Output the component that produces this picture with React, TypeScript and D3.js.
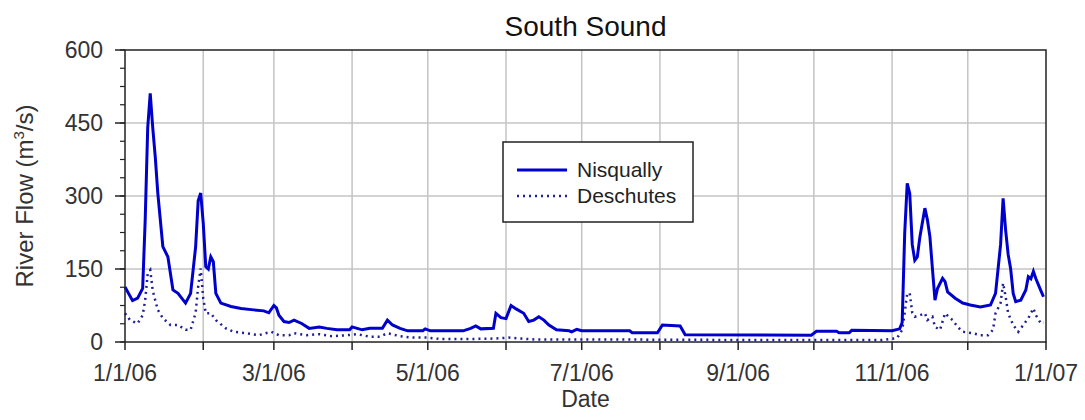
import React from "react";
import * as d3 from "d3";

const TITLE = "South Sound";
const X_TICK_LABELS = ["1/1/06", "3/1/06", "5/1/06", "7/1/06", "9/1/06", "11/1/06", "1/1/07"];
const Y_TICKS = [0, 150, 300, 450, 600];

const NISQUALLY_DATES = [
  "2006-01-01","2006-01-04","2006-01-06","2006-01-08","2006-01-09","2006-01-10","2006-01-11","2006-01-12","2006-01-13","2006-01-14",
  "2006-01-16","2006-01-18","2006-01-20","2006-01-22","2006-01-25","2006-01-27","2006-01-29","2006-01-30","2006-01-31","2006-02-01",
  "2006-02-02","2006-02-03","2006-02-04","2006-02-05","2006-02-06","2006-02-08","2006-02-12","2006-02-16","2006-02-21","2006-02-25",
  "2006-02-27","2006-03-01","2006-03-02","2006-03-03","2006-03-05","2006-03-07","2006-03-09","2006-03-12","2006-03-15","2006-03-19",
  "2006-03-22","2006-03-26","2006-03-31","2006-04-01","2006-04-03","2006-04-05","2006-04-08","2006-04-13","2006-04-15","2006-04-17",
  "2006-04-20","2006-04-23","2006-04-29","2006-04-30","2006-05-02","2006-05-15","2006-05-18","2006-05-20","2006-05-22","2006-05-27",
  "2006-05-28","2006-05-30","2006-06-01","2006-06-03","2006-06-05","2006-06-08","2006-06-10","2006-06-12","2006-06-14","2006-06-16",
  "2006-06-18","2006-06-21","2006-06-26","2006-06-27","2006-06-29","2006-07-01","2006-07-20","2006-07-21","2006-07-31","2006-08-02",
  "2006-08-09","2006-08-11","2006-09-30","2006-10-02","2006-10-10","2006-10-11","2006-10-15","2006-10-16","2006-11-01","2006-11-04",
  "2006-11-05","2006-11-06","2006-11-07","2006-11-08","2006-11-09","2006-11-10","2006-11-11","2006-11-12","2006-11-14","2006-11-15",
  "2006-11-16","2006-11-17","2006-11-18","2006-11-19","2006-11-21","2006-11-22","2006-11-23","2006-11-26","2006-11-29","2006-12-02",
  "2006-12-06","2006-12-10","2006-12-12","2006-12-14","2006-12-15","2006-12-16","2006-12-17","2006-12-18","2006-12-19","2006-12-20",
  "2006-12-22","2006-12-24","2006-12-25","2006-12-26","2006-12-27","2006-12-28","2006-12-30","2006-12-31"
];
const NISQUALLY_VALUES = [
  113,85,90,110,250,440,511,440,380,306,
  196,175,107,100,80,100,196,290,306,245,
  155,150,175,165,100,80,73,69,66,64,
  60,75,70,55,42,40,45,38,28,31,
  28,25,25,31,28,25,28,28,45,35,
  28,23,23,27,23,23,28,33,27,28,
  59,50,48,75,68,59,42,45,52,45,
  35,25,23,21,26,23,23,19,19,35,
  33,15,14,22,22,19,19,24,23,27,
  40,223,326,305,200,168,175,215,275,251,
  216,150,86,110,131,124,103,90,80,76,
  72,76,100,200,295,230,180,150,100,83,
  86,107,134,130,145,130,105,93
];

const DESCHUTES_DATES = [
  "2006-01-01","2006-01-03","2006-01-06","2006-01-08","2006-01-09","2006-01-10","2006-01-11","2006-01-12","2006-01-14","2006-01-16",
  "2006-01-19","2006-01-22","2006-01-25","2006-01-27","2006-01-29","2006-01-30","2006-01-31","2006-02-01","2006-02-02","2006-02-04",
  "2006-02-06","2006-02-10","2006-02-13","2006-02-18","2006-02-23","2006-02-28","2006-03-03","2006-03-07","2006-03-09","2006-03-14",
  "2006-03-19","2006-03-24","2006-03-30","2006-04-03","2006-04-08","2006-04-12","2006-04-15","2006-04-20","2006-04-25","2006-05-01",
  "2006-05-06","2006-05-16","2006-05-27","2006-06-02","2006-06-07","2006-06-13","2006-06-30","2006-07-20","2006-09-08","2006-10-28",
  "2006-11-03","2006-11-05","2006-11-06","2006-11-07","2006-11-08","2006-11-09","2006-11-10","2006-11-12","2006-11-14","2006-11-15",
  "2006-11-17","2006-11-18","2006-11-20","2006-11-22","2006-11-24","2006-11-25","2006-11-27","2006-11-29","2006-12-03","2006-12-06",
  "2006-12-09","2006-12-11","2006-12-12","2006-12-14","2006-12-15","2006-12-16","2006-12-17","2006-12-19","2006-12-21","2006-12-23",
  "2006-12-25","2006-12-27","2006-12-28","2006-12-30","2006-12-31"
];
const DESCHUTES_VALUES = [
  59,45,38,55,86,141,148,105,66,49,
  35,35,25,25,60,114,151,90,59,59,
  45,28,21,18,14,21,14,14,18,14,
  16,12,14,16,11,11,18,12,9,9,
  6,6,7,9,7,5,5,5,4,4,
  8,25,60,100,100,60,52,55,59,45,
  52,31,25,59,49,45,31,21,18,14,
  14,25,59,80,121,93,59,35,21,35,
  49,69,55,38,40
];

const SERIES_NAMES = ["Nisqually", "Deschutes"];

const W = 1085, H = 420;
const M = { left: 125, right: 1046, top: 50, bottom: 342 };
const FONT = "'Liberation Sans', Arial, sans-serif";

export default function App() {
  const parse = d3.timeParse("%Y-%m-%d");
  const x = d3.scaleTime().domain([new Date(2006, 0, 1), new Date(2007, 0, 1)]).range([M.left, M.right]);
  const y = d3.scaleLinear().domain([0, 600]).range([M.bottom, M.top]);

  const nis = NISQUALLY_DATES.map((d, i) => ({ d: parse(d) as Date, v: NISQUALLY_VALUES[i] }));
  const des = DESCHUTES_DATES.map((d, i) => ({ d: parse(d) as Date, v: DESCHUTES_VALUES[i] }));
  const line = d3.line<{ d: Date; v: number }>().x((p) => x(p.d)).y((p) => y(p.v));

  const months = d3.timeMonth.range(new Date(2006, 0, 1), new Date(2007, 0, 2));
  const labelMonths = months.filter((m, i) => i % 2 === 0);
  const minorY = d3.range(0, 600.01, 37.5);

  return (
    <svg width={W} height={H} style={{ position: "absolute", left: 0, top: 0, background: "#fff" }}>
      {/* gridlines */}
      {months.slice(1, -1).map((m, i) => (
        <line key={"vg" + i} x1={x(m)} x2={x(m)} y1={M.top} y2={M.bottom} stroke="#c4c4c4" strokeWidth={1.5} />
      ))}
      {Y_TICKS.slice(1, -1).map((t) => (
        <line key={"hg" + t} x1={M.left} x2={M.right} y1={y(t)} y2={y(t)} stroke="#c4c4c4" strokeWidth={1.5} />
      ))}

      {/* data */}
      <path d={line(des) || ""} fill="none" stroke="#1f1f99" strokeWidth={2.5} strokeDasharray="2 4" />
      <path d={line(nis) || ""} fill="none" stroke="#0000cc" strokeWidth={3} strokeLinejoin="miter" />

      {/* frame */}
      <rect x={M.left} y={M.top} width={M.right - M.left} height={M.bottom - M.top} fill="none" stroke="#222" strokeWidth={1.5} />

      {/* y ticks */}
      {minorY.map((t) => (
        <line key={"my" + t} x1={M.left - 5} x2={M.left} y1={y(t)} y2={y(t)} stroke="#222" strokeWidth={1.2} />
      ))}
      {Y_TICKS.map((t) => (
        <g key={"yt" + t}>
          <line x1={M.left - 10} x2={M.left} y1={y(t)} y2={y(t)} stroke="#222" strokeWidth={1.5} />
          <text x={103} y={y(t) + 8} textAnchor="end" fontFamily={FONT} fontSize={23} fill="#333">{t}</text>
        </g>
      ))}

      {/* x ticks */}
      {months.map((m, i) => (
        <line key={"xt" + i} x1={x(m)} x2={x(m)} y1={M.bottom} y2={M.bottom + 8} stroke="#222" strokeWidth={1.5} />
      ))}
      {labelMonths.map((m, i) => (
        <text key={"xl" + i} x={x(m)} y={381} textAnchor="middle" fontFamily={FONT} fontSize={23} fill="#333">
          {X_TICK_LABELS[i]}
        </text>
      ))}

      {/* axis titles */}
      <text x={(M.left + M.right) / 2} y={407} textAnchor="middle" fontFamily={FONT} fontSize={23} fill="#333">Date</text>
      <text transform={`translate(33, ${(M.top + M.bottom) / 2}) rotate(-90)`} textAnchor="middle" fontFamily={FONT} fontSize={24} fill="#333">
        River Flow (m<tspan dy={-9} fontSize={15}>3</tspan><tspan dy={9}>/s)</tspan>
      </text>

      {/* title */}
      <text x={(M.left + M.right) / 2} y={36} textAnchor="middle" fontFamily={FONT} fontSize={28} fill="#111">{TITLE}</text>

      {/* legend */}
      <g>
        <rect x={503} y={142} width={190} height={80} fill="#fff" stroke="#222" strokeWidth={1.5} />
        <line x1={517} x2={567} y1={170} y2={170} stroke="#0000cc" strokeWidth={3} />
        <text x={577} y={177} fontFamily={FONT} fontSize={21} fill="#222">{SERIES_NAMES[0]}</text>
        <line x1={517} x2={567} y1={196} y2={196} stroke="#1f1f99" strokeWidth={2.5} strokeDasharray="2 4" />
        <text x={577} y={203} fontFamily={FONT} fontSize={21} fill="#222">{SERIES_NAMES[1]}</text>
      </g>
    </svg>
  );
}
